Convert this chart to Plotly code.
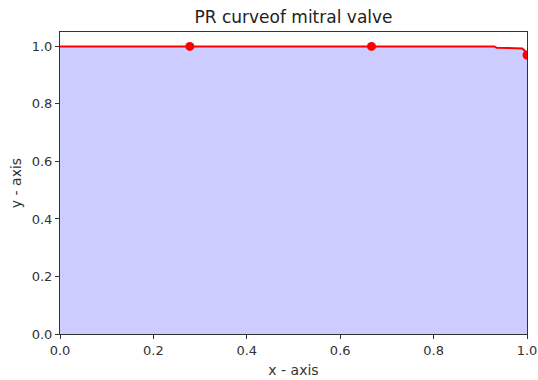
import plotly.graph_objects as go

recall = [0.0, 0.278, 0.667, 0.93, 0.935, 0.985, 0.99, 0.995, 1.0]
precision = [1.0, 1.0, 1.0, 1.0, 0.995, 0.995, 0.993, 0.985, 0.97]
marker_x = [0.278, 0.667, 1.0]
marker_y = [1.0, 1.0, 0.97]
x_ticks = [0.0, 0.2, 0.4, 0.6, 0.8, 1.0]
y_ticks = [0.0, 0.2, 0.4, 0.6, 0.8, 1.0]

fig = go.Figure()
fig.add_trace(go.Scatter(x=recall, y=precision, mode="lines", fill="tozeroy",
                         fillcolor="rgba(0,0,255,0.2)", line=dict(width=0),
                         hoverinfo="skip", showlegend=False))
fig.add_trace(go.Scatter(x=recall, y=precision, mode="lines",
                         line=dict(color="red", width=2), showlegend=False))
fig.add_trace(go.Scatter(x=marker_x, y=marker_y, mode="markers",
                         marker=dict(color="red", size=9), showlegend=False,
                         cliponaxis=True))

fig.update_layout(
    width=538, height=380,
    margin=dict(l=60, r=11, t=32, b=46),
    paper_bgcolor="white", plot_bgcolor="white",
    font=dict(family="DejaVu Sans", size=13, color="#333"),
    title=dict(text="PR curveof mitral valve", x=(60 + 527) / 2 / 538, xanchor="center",
               y=1 - 17 / 380, yanchor="middle", font=dict(size=17, color="#222")),
)
axis_common = dict(showgrid=False, zeroline=False, showline=True, linecolor="#333",
                   linewidth=1, mirror=True, ticks="outside", ticklen=4,
                   tickcolor="#333", tickformat=".1f", automargin=False,
                   title_font=dict(size=14, color="#333"))
fig.update_xaxes(range=[0, 1], tickvals=x_ticks, title_text="x - axis",
                 title_standoff=8, **axis_common)
fig.update_yaxes(range=[0, 1.05], tickvals=y_ticks, title_text="y - axis",
                 title_standoff=6, **axis_common)

fig.write_html("out.html", config={"displayModeBar": False},
               post_script="document.body.style.margin='0';")
